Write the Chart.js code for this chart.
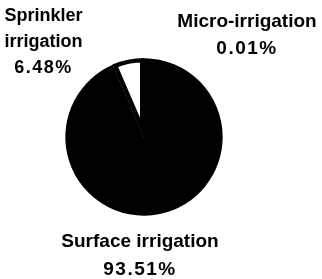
<!DOCTYPE html>
<html>
<head>
<meta charset="utf-8">
<script src="https://cdn.jsdelivr.net/npm/chart.js@4/dist/chart.umd.min.js"></script>
<style>
html,body{margin:0;padding:0;background:#fff;}
#wrap{width:322px;height:279px;position:relative;}
</style>
</head>
<body>
<div id="wrap"><canvas id="c" width="322" height="279"></canvas></div>
<script>
// Data (drawn clockwise from 12 o'clock)
const categories = ['Surface irrigation', 'Micro-irrigation', 'Sprinkler irrigation'];
const shares = [93.51, 0.01, 6.48];
const labelLines = [['Surface irrigation'], ['Micro-irrigation'], ['Sprinkler', 'irrigation']];
const sliceColors = ['#000000', '#000000', '#ffffff'];

const labelPlugin = {
  id: 'outerLabels',
  afterDraw(chart) {
    const ctx = chart.ctx;
    const spec = [
      {cx: 140, base: 247, lh: 28, size: 19},   // Surface
      {cx: 247, base: 27, lh: 27, size: 19},    // Micro
      {cx: 43.5, base: 21, lh: 26, size: 18}    // Sprinkler
    ];
    ctx.save();
    ctx.fillStyle = '#000';
    ctx.textAlign = 'center';
    ctx.textBaseline = 'alphabetic';
    categories.forEach((cat, i) => {
      const s = spec[i];
      const lines = labelLines[i].concat([shares[i].toFixed(2) + '%']);
      lines.forEach((t, j) => {
        const isNum = j === lines.length - 1;
        ctx.font = 'bold ' + s.size + 'px "Liberation Sans", Arial, sans-serif';
        ctx.letterSpacing = isNum ? '1.5px' : '0px';
        ctx.fillText(t, s.cx, s.base + j * s.lh);
      });
    });
    ctx.restore();
  }
};

new Chart(document.getElementById('c'), {
  type: 'pie',
  data: {
    labels: categories,
    datasets: [{
      data: shares,
      backgroundColor: sliceColors,
      borderColor: '#000000',
      borderWidth: [0, 0, 4],
      borderAlign: 'inner'
    }]
  },
  options: {
    responsive: false,
    animation: false,
    layout: {padding: {left: 65, right: 99, top: 58, bottom: 63}},
    plugins: {legend: {display: false}, tooltip: {enabled: false}}
  },
  plugins: [labelPlugin]
});
</script>
</body>
</html>
